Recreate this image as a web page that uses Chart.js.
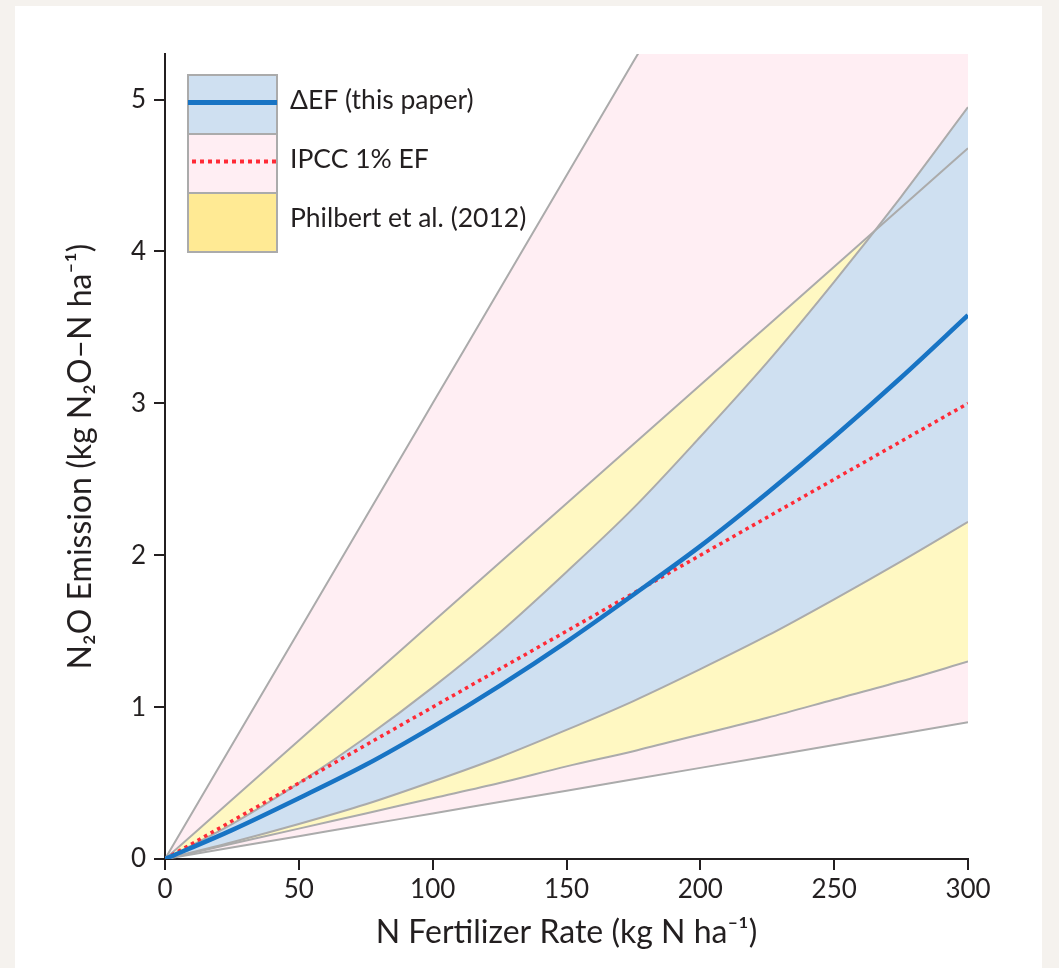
<!DOCTYPE html>
<html>
<head>
<meta charset="utf-8">
<script src="https://cdn.jsdelivr.net/npm/chart.js@4"></script>
<style>
  html, body { margin: 0; padding: 0; background: #f5f2ee; }
  #panel { position: absolute; left: 15px; top: 6px; width: 1027px; height: 962px; background: #ffffff; }
  #myChart { position: absolute; left: 0; top: 0; }
</style>
</head>
<body>
<div id="panel"></div>
<canvas id="myChart" width="1059" height="968"></canvas>
<script>
// N fertilizer rate (kg N / ha)
const rate = [0, 25, 50, 75, 100, 125, 150, 175, 200, 225, 250, 275, 300];

// N2O emission (kg N2O-N / ha)
const deltaEF      = [0, 0.19, 0.40, 0.62, 0.87, 1.14, 1.43, 1.74, 2.06, 2.41, 2.78, 3.17, 3.58];
const deltaEFUpper = [0, 0.23, 0.50, 0.80, 1.13, 1.49, 1.89, 2.31, 2.78, 3.27, 3.80, 4.36, 4.95];
const deltaEFLower = [0, 0.11, 0.23, 0.36, 0.51, 0.67, 0.85, 1.04, 1.25, 1.47, 1.71, 1.96, 2.22];
const ipcc         = [0, 0.25, 0.50, 0.75, 1.00, 1.25, 1.50, 1.75, 2.00, 2.25, 2.50, 2.75, 3.00];
const ipccUpper    = [0, 0.75, 1.50, 2.25, 3.00, 3.75, 4.50, 5.25, 6.00, 6.75, 7.50, 8.25, 9.00];
const ipccLower    = [0, 0.075, 0.15, 0.225, 0.30, 0.375, 0.45, 0.525, 0.60, 0.675, 0.75, 0.825, 0.90];
const philUpper    = [0, 0.39, 0.78, 1.17, 1.56, 1.95, 2.34, 2.73, 3.12, 3.51, 3.90, 4.29, 4.68];
const philLower    = [0, 0.10, 0.20, 0.30, 0.40, 0.50, 0.61, 0.71, 0.82, 0.93, 1.05, 1.17, 1.30];

const xTicks = [0, 50, 100, 150, 200, 250, 300];
const yTicks = [0, 1, 2, 3, 4, 5];

const ink = '#231f20';
const edge = '#ababab';

Chart.defaults.font.family = 'Lato, "Open Sans", sans-serif';
Chart.defaults.color = ink;

// turn a y array into {x, y} points
function pts(arr) {
  return rate.map((x, i) => ({ x: x, y: arr[i] }));
}

function band(arr, colour, fillTo, order) {
  return {
    data: pts(arr),
    borderColor: 'rgba(0,0,0,0)',
    borderWidth: 0,
    backgroundColor: colour,
    fill: fillTo,
    pointRadius: 0,
    cubicInterpolationMode: 'monotone',
    order: order
  };
}

function edgeLine(arr) {
  return {
    data: pts(arr),
    borderColor: edge,
    borderWidth: 2,
    fill: false,
    pointRadius: 0,
    cubicInterpolationMode: 'monotone',
    order: 2
  };
}

const data = {
  datasets: [
    // lines on top
    { label: 'ΔEF (this paper)', data: pts(deltaEF), borderColor: '#1874c4', borderWidth: 4.5,
      fill: false, pointRadius: 0, cubicInterpolationMode: 'monotone', order: 0 },
    { label: 'IPCC 1% EF', data: pts(ipcc), borderColor: '#ff2a36', borderWidth: 3.5, borderDash: [3.5, 4],
      fill: false, pointRadius: 0, order: 1 },
    // grey band edges
    edgeLine(deltaEFUpper), edgeLine(deltaEFLower),
    edgeLine(philUpper), edgeLine(philLower),
    edgeLine(ipccUpper), edgeLine(ipccLower),
    // band fills, drawn first
    band(deltaEFUpper, '#cfe0f1', '+1', 3), band(deltaEFLower, '#cfe0f1', false, 3),
    band(philUpper, '#fff8c2', '+1', 4), band(philLower, '#fff8c2', false, 4),
    band(ipccUpper, '#ffeef3', '+1', 5), band(ipccLower, '#ffeef3', false, 5)
  ]
};

// boxed legend in the upper left of the plot
const legendItems = [
  { label: 'ΔEF (this paper)', fill: '#cfe0f1', line: '#1874c4', width: 5, dash: [] },
  { label: 'IPCC 1% EF', fill: '#ffeef3', line: '#ff2a36', width: 4, dash: [4, 4] },
  { label: 'Philbert et al. (2012)', fill: '#ffea94', line: null }
];

const boxLegend = {
  id: 'boxLegend',
  afterDraw(chart) {
    const ctx = chart.ctx;
    const x = 188, w = 89, h = 59;
    let y = 75;
    legendItems.forEach(item => {
      ctx.save();
      ctx.fillStyle = item.fill;
      ctx.fillRect(x, y, w, h);
      ctx.strokeStyle = edge;
      ctx.lineWidth = 2;
      ctx.strokeRect(x, y, w, h);
      if (item.line) {
        ctx.beginPath();
        ctx.strokeStyle = item.line;
        ctx.lineWidth = item.width;
        ctx.setLineDash(item.dash);
        ctx.moveTo(x + (item.dash.length ? 4 : 0), y + h / 2 - 2);
        ctx.lineTo(x + w, y + h / 2 - 2);
        ctx.stroke();
      }
      ctx.setLineDash([]);
      ctx.fillStyle = ink;
      ctx.font = '26.5px Lato, "Open Sans", sans-serif';
      ctx.textBaseline = 'alphabetic';
      ctx.fillText(item.label, 290, y + 34);
      ctx.restore();
      y += h;
    });
  }
};

const config = {
  type: 'line',
  data: data,
  options: {
    responsive: false,
    animation: false,
    layout: { padding: { left: 0, right: 91, top: 54, bottom: 0 } },
    plugins: { legend: { display: false }, tooltip: { enabled: false } },
    scales: {
      x: {
        type: 'linear', min: 0, max: 300,
        afterBuildTicks: s => { s.ticks = xTicks.map(v => ({ value: v })); },
        afterFit: s => { s.height = 109; },
        ticks: { font: { size: 26 }, color: ink, padding: 4 },
        grid: { drawOnChartArea: false, drawTicks: true, tickLength: 11, color: ink, lineWidth: 2 },
        border: { color: ink, width: 2 },
        title: { display: true, text: 'N Fertilizer Rate (kg N ha⁻¹)', font: { size: 32 }, color: ink,
                 padding: { top: 0, bottom: 16 } }
      },
      y: {
        type: 'linear', min: 0, max: 5.3,
        afterBuildTicks: s => { s.ticks = yTicks.map(v => ({ value: v })); },
        afterFit: s => { s.width = 165; },
        ticks: { font: { size: 26 }, color: ink, padding: 8 },
        grid: { drawOnChartArea: false, drawTicks: true, tickLength: 11, color: ink, lineWidth: 2 },
        border: { color: ink, width: 2 },
        title: { display: true, text: 'N₂O Emission (kg N₂O–N ha⁻¹)', font: { size: 32 }, color: ink,
                 padding: { top: 61, bottom: 0 } }
      }
    }
  },
  plugins: [boxLegend]
};

const myChart = new Chart(document.getElementById('myChart'), config);
</script>
</body>
</html>
